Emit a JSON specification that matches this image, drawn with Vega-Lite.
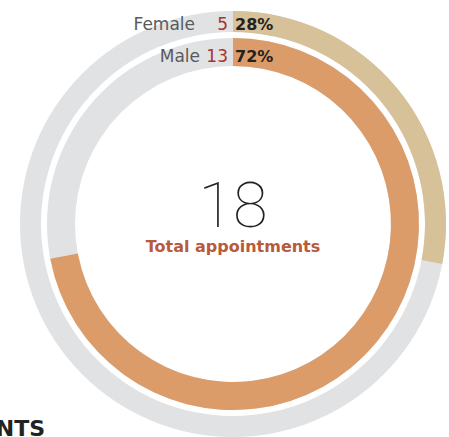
{
  "$schema": "https://vega.github.io/schema/vega-lite/v6.json",
  "width": 466,
  "height": 448,
  "autosize": {"type": "none"},
  "padding": {"left": 0, "top": 0, "right": 0, "bottom": 0},
  "background": "white",
  "config": {"view": {"stroke": null}},
  "title": {"text": "APPOINTMENTS", "orient": "bottom", "anchor": "start", "align": "right", "dx": 45, "offset": -12, "baseline": "alphabetic", "font": "DejaVu Sans", "fontWeight": "bold", "fontSize": 22, "color": "#222222"},
  "data": {"values": [
    {"gender": "Female", "count": 5, "pct": 0.28, "total": 18},
    {"gender": "Male", "count": 13, "pct": 0.72, "total": 18}
  ]},
  "layer": [
    {"transform": [{"filter": "datum.gender == 'Female'"}], "mark": {"type": "arc", "radius": 213, "radius2": 192, "theta": 0, "theta2": 6.2832, "color": "#e1e2e4"}, "encoding": {}},
    {"transform": [{"filter": "datum.gender == 'Male'"}], "mark": {"type": "arc", "radius": 186, "radius2": 158, "theta": 0, "theta2": 6.2832, "color": "#e1e2e4"}, "encoding": {}},
    {"transform": [{"filter": "datum.gender == 'Female'"}], "mark": {"type": "arc", "radius": 213, "radius2": 192},
     "encoding": {"theta": {"field": "pct", "type": "quantitative", "scale": {"domain": [0, 1]}},
                  "color": {"field": "gender", "type": "nominal", "scale": {"domain": ["Female", "Male"], "range": ["#d6c199", "#dc9c6a"]}, "legend": null}}},
    {"transform": [{"filter": "datum.gender == 'Male'"}], "mark": {"type": "arc", "radius": 186, "radius2": 158},
     "encoding": {"theta": {"field": "pct", "type": "quantitative", "scale": {"domain": [0, 1]}},
                  "color": {"field": "gender", "type": "nominal", "scale": {"domain": ["Female", "Male"], "range": ["#d6c199", "#dc9c6a"]}, "legend": null}}},
    {"transform": [{"filter": "datum.gender == 'Female'"}], "mark": {"type": "text", "theta": 0, "radius": 194, "dx": -38, "align": "right", "baseline": "alphabetic", "font": "DejaVu Sans", "fontSize": 17, "color": "#5a5a5a"}, "encoding": {"text": {"field": "gender"}}},
    {"transform": [{"filter": "datum.gender == 'Male'"}], "mark": {"type": "text", "theta": 0, "radius": 162, "dx": -33, "align": "right", "baseline": "alphabetic", "font": "DejaVu Sans", "fontSize": 17, "color": "#5a5a5a"}, "encoding": {"text": {"field": "gender"}}},
    {"transform": [{"filter": "datum.gender == 'Female'"}], "mark": {"type": "text", "theta": 0, "radius": 194, "dx": -5, "align": "right", "baseline": "alphabetic", "font": "DejaVu Sans", "fontSize": 17, "color": "#a8352b"}, "encoding": {"text": {"field": "count"}}},
    {"transform": [{"filter": "datum.gender == 'Male'"}], "mark": {"type": "text", "theta": 0, "radius": 162, "dx": -5, "align": "right", "baseline": "alphabetic", "font": "DejaVu Sans", "fontSize": 17, "color": "#a8352b"}, "encoding": {"text": {"field": "count"}}},
    {"transform": [{"filter": "datum.gender == 'Female'"}], "mark": {"type": "text", "theta": 0, "radius": 194, "dx": 2, "align": "left", "baseline": "alphabetic", "font": "DejaVu Sans", "fontWeight": "bold", "fontSize": 16, "color": "#222222"}, "encoding": {"text": {"field": "pct", "format": ".0%"}}},
    {"transform": [{"filter": "datum.gender == 'Male'"}], "mark": {"type": "text", "theta": 0, "radius": 162, "dx": 2, "align": "left", "baseline": "alphabetic", "font": "DejaVu Sans", "fontWeight": "bold", "fontSize": 16, "color": "#222222"}, "encoding": {"text": {"field": "pct", "format": ".0%"}}},
    {"transform": [{"filter": "datum.gender == 'Female'"}], "mark": {"type": "text", "dy": 3, "align": "center", "baseline": "alphabetic", "font": "Roboto", "fontWeight": 100, "fontSize": 63, "color": "#222222"}, "encoding": {"text": {"field": "total"}}},
    {"transform": [{"filter": "datum.gender == 'Female'"}], "mark": {"type": "text", "dy": 28, "align": "center", "baseline": "alphabetic", "font": "DejaVu Sans", "fontWeight": "bold", "fontSize": 16, "color": "#b85a3c"}, "encoding": {"text": {"value": "Total appointments"}}}
  ]
}
